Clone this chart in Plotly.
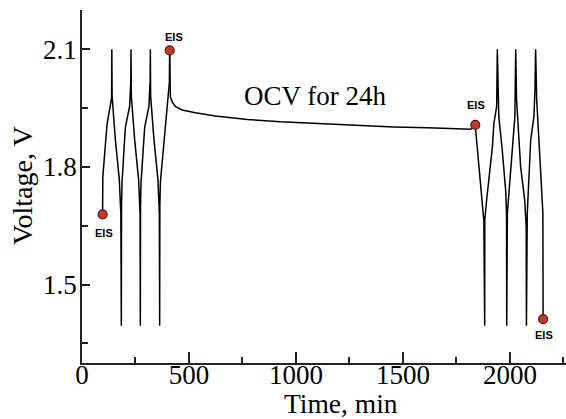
import plotly.graph_objects as go

# Galvanostatic cycling before the OCV rest (min, V)
cycles_before_time = [96.3, 97.3, 116.9, 132.4, 138.4, 139.4,
                      140.8, 155.7, 174.4, 181.5, 183.8,
                      184.7, 187.1, 202.5, 222.6, 228.2, 229.2,
                      230.6, 246.0, 264.7, 271.3, 272.7,
                      273.6, 275.9, 292.8, 312.9, 318.5, 319.4,
                      320.8, 336.3, 355.0, 361.5, 362.9,
                      363.9, 366.2, 383.0, 397.5, 408.3, 409.7]
cycles_before_voltage = [1.679, 1.775, 1.908, 1.955, 1.976, 2.10,
                         1.98, 1.87, 1.767, 1.68, 1.395,
                         1.70, 1.76, 1.90, 1.955, 2.02, 2.10,
                         1.98, 1.87, 1.767, 1.68, 1.395,
                         1.70, 1.76, 1.90, 1.955, 2.02, 2.10,
                         1.98, 1.87, 1.767, 1.68, 1.395,
                         1.70, 1.76, 1.87, 1.955, 2.015, 2.10]

# Open-circuit rest for 24 h
ocv_time = [409.7, 413, 421, 436, 468, 530, 623, 772, 927, 1146, 1302,
            1457, 1614, 1769, 1816, 1838]
ocv_voltage = [2.10, 1.979, 1.966, 1.954, 1.945, 1.938, 1.930, 1.921, 1.915,
               1.909, 1.906, 1.902, 1.900, 1.897, 1.896, 1.905]

# Galvanostatic cycling after the OCV rest
cycles_after_time = [1838, 1855, 1867, 1878, 1882,
                     1882.5, 1891, 1902, 1918, 1925, 1938, 1941,
                     1948, 1964, 1980, 1984, 1985,
                     1988, 2003, 2019, 2023, 2027,
                     2031, 2050, 2069, 2076, 2077,
                     2081, 2097, 2112, 2117, 2120,
                     2125, 2144, 2154, 2155]
cycles_after_voltage = [1.905, 1.80, 1.723, 1.663, 1.395,
                        1.664, 1.715, 1.766, 1.851, 1.911, 1.954, 2.10,
                        1.928, 1.843, 1.740, 1.682, 1.395,
                        1.682, 1.783, 1.885, 1.928, 2.10,
                        1.971, 1.80, 1.715, 1.646, 1.395,
                        1.682, 1.868, 1.928, 1.996, 2.10,
                        1.971, 1.783, 1.681, 1.412]

# EIS measurement points
eis_time = [96.3, 409.7, 1838, 2155]
eis_voltage = [1.679, 2.097, 1.907, 1.412]
eis_label_shift = [-19, 13, 20, -16]
eis_label_xshift = [1, 4, 1, 1]

x_ticks_major = [0, 500, 1000, 1500, 2000]
y_ticks_major = [1.5, 1.8, 2.1]

FONT = "Liberation Serif, Times New Roman, serif"
LINE = dict(color="black", width=1.5)

fig = go.Figure()
for t, v in [(cycles_before_time, cycles_before_voltage),
             (ocv_time, ocv_voltage),
             (cycles_after_time, cycles_after_voltage)]:
    fig.add_trace(go.Scatter(x=t, y=v, mode="lines", line=LINE,
                             showlegend=False, hoverinfo="skip"))

fig.add_trace(go.Scatter(
    x=eis_time, y=eis_voltage, mode="markers", showlegend=False,
    marker=dict(size=9, color="#c0392b", line=dict(color="#5e1010", width=1.2))))

for t, v, dy, dx in zip(eis_time, eis_voltage, eis_label_shift, eis_label_xshift):
    fig.add_annotation(x=t, y=v, text="<b>EIS</b>", showarrow=False,
                       yshift=dy, xshift=dx,
                       font=dict(family="Liberation Sans, Arial, sans-serif",
                                 size=11, color="black"))

fig.add_annotation(x=1091, y=1.981, text="OCV for 24h", showarrow=False,
                   font=dict(family=FONT, size=27, color="black"))

# axis titles
fig.add_annotation(xref="paper", yref="paper", x=0.535, y=-0.114,
                   xanchor="center", yanchor="middle",
                   text="Time, min", showarrow=False,
                   font=dict(family=FONT, size=27.5, color="black"))
fig.add_annotation(xref="paper", yref="paper", x=-0.124, y=0.504,
                   xanchor="center", yanchor="middle",
                   text="Voltage, V", showarrow=False, textangle=-90,
                   font=dict(family=FONT, size=28, color="black"))

XR = [0, 2262]
YR = [1.3, 2.2]

fig.update_layout(
    width=566, height=419,
    margin=dict(l=82, r=0, t=10, b=56),
    paper_bgcolor="white", plot_bgcolor="white",
    xaxis=dict(range=XR, tickvals=x_ticks_major, ticks="inside", ticklen=11,
               tickwidth=1.5, tickcolor="#222", showline=True, linecolor="#222",
               linewidth=1.5, showgrid=False, zeroline=False,
               ticklabelstandoff=-13,
               minor=dict(dtick=250, tick0=0, ticks="inside", ticklen=6,
                          tickwidth=1.5, tickcolor="#222"),
               tickfont=dict(family=FONT, size=27, color="black")),
    xaxis2=dict(range=XR, overlaying="x", side="top", dtick=250, tick0=0,
                ticks="inside", ticklen=11, tickwidth=1.5, tickcolor="#222",
                showline=True, linecolor="#222", linewidth=1.5,
                showticklabels=False, showgrid=False, zeroline=False),
    yaxis=dict(range=YR, tickvals=y_ticks_major, ticks="inside", ticklen=8,
               tickwidth=1.5, tickcolor="#222", showline=True, linecolor="#222",
               linewidth=1.5, showgrid=False, zeroline=False,
               ticklabelstandoff=-2,
               minor=dict(tickvals=[1.35, 1.65, 1.95], ticks="inside", ticklen=6,
                          tickwidth=1.5, tickcolor="#222"),
               tickfont=dict(family=FONT, size=27, color="black")),
    yaxis2=dict(range=YR, overlaying="y", side="right", tickvals=y_ticks_major,
                ticks="inside", ticklen=8, tickwidth=1.5, tickcolor="#222",
                showline=False, showticklabels=False, showgrid=False,
                zeroline=False),
)

fig.write_html("out.html")
